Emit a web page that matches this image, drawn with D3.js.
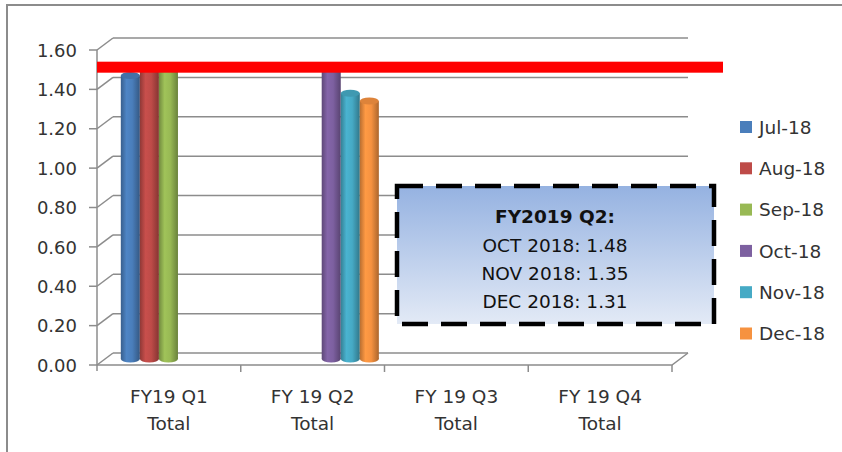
<!DOCTYPE html>
<html>
<head>
<meta charset="utf-8">
<script src="https://cdn.jsdelivr.net/npm/d3@7"></script>
<style>
  body { margin: 0; background: #fff; }
  text { font-family: "DejaVu Sans", sans-serif; }
</style>
</head>
<body>
<div id="chart"></div>
<script>
// data
const categories = ["FY19 Q1 Total", "FY 19 Q2 Total", "FY 19 Q3 Total", "FY 19 Q4 Total"];
const months = ["Jul-18", "Aug-18", "Sep-18", "Oct-18", "Nov-18", "Dec-18"];
const jul18 = [1.44, null, null, null];
const aug18 = [1.49, null, null, null];
const sep18 = [1.49, null, null, null];
const oct18 = [null, 1.48, null, null];
const nov18 = [null, 1.35, null, null];
const dec18 = [null, 1.31, null, null];
const yTicks = [0, 0.2, 0.4, 0.6, 0.8, 1.0, 1.2, 1.4, 1.6];
const target = 1.5;
const noteTitle = "FY2019 Q2:";
const noteLines = ["OCT 2018: 1.48", "NOV 2018: 1.35", "DEC 2018: 1.31"];

const seriesValues = [jul18, aug18, sep18, oct18, nov18, dec18];
const colors = ["#4a7ebb", "#be4b48", "#98b954", "#7d60a0", "#46aac5", "#f69240"];

const W = 842, H = 452;
const depth = {dx: 16, dy: -12};   // 3d offset front -> back wall

const svg = d3.select('#chart').append('svg')
  .attr('width', W).attr('height', H);

const defs = svg.append('defs');

const x0 = d3.scaleBand().domain(categories).range([97, 672]);
const x1 = d3.scaleBand().domain(months)
  .range([x0.bandwidth() * 0.11, x0.bandwidth() * 0.905]);
const y = d3.scaleLinear().domain([0, 1.6]).range([365, 50]);

// outer frame (only top and left edges show in the crop)
svg.append('path')
  .attr('d', `M7,${H} V5 H${W}`)
  .attr('fill', 'none').attr('stroke', '#8c8c8c').attr('stroke-width', 2);

// walls / gridlines
const grid = svg.append('g').attr('stroke', '#8c8c8c').attr('stroke-width', 1.5).attr('fill', 'none');
grid.selectAll('line.back')
  .data(yTicks).enter().append('line')
  .attr('x1', 97 + depth.dx).attr('x2', 672 + depth.dx)
  .attr('y1', d => y(d) + depth.dy).attr('y2', d => y(d) + depth.dy);
grid.selectAll('line.side')
  .data(yTicks).enter().append('line')
  .attr('x1', 97).attr('x2', 97 + depth.dx)
  .attr('y1', d => y(d)).attr('y2', d => y(d) + depth.dy);
grid.selectAll('line.tick')
  .data(yTicks).enter().append('line')
  .attr('x1', 89).attr('x2', 97)
  .attr('y1', d => y(d)).attr('y2', d => y(d));
// front axis + floor
grid.append('line').attr('x1', 97).attr('x2', 97).attr('y1', y(0) + 6).attr('y2', y(1.6));
grid.append('path')
  .attr('d', `M97,${y(0)} H672 l${depth.dx},${depth.dy}`);
grid.selectAll('line.ctick')
  .data(categories.slice(1).concat(['end'])).enter().append('line')
  .attr('x1', d => d === 'end' ? 672 : x0(d))
  .attr('x2', d => d === 'end' ? 672 : x0(d))
  .attr('y1', y(0)).attr('y2', y(0) + 7);

// y labels
svg.append('g').selectAll('text')
  .data(yTicks).enter().append('text')
  .attr('x', 77).attr('y', d => y(d)).attr('dy', '0.37em')
  .attr('text-anchor', 'end').attr('font-size', 18).attr('fill', '#333')
  .text(d => d3.format('.2f')(d));

// category labels, two lines
const cl = svg.append('g').selectAll('text')
  .data(categories).enter().append('text')
  .attr('text-anchor', 'middle').attr('font-size', 18.5).attr('fill', '#333')
  .attr('x', d => x0(d) + x0.bandwidth() / 2);
cl.append('tspan').attr('x', d => x0(d) + x0.bandwidth() / 2).attr('y', 403)
  .text(d => d.replace(/ Total$/, ''));
cl.append('tspan').attr('x', d => x0(d) + x0.bandwidth() / 2).attr('y', 430)
  .text('Total');

// cylinder gradients
colors.forEach((c, i) => {
  const g = defs.append('linearGradient').attr('id', 'cyl' + i)
    .attr('x1', 0).attr('x2', 1).attr('y1', 0).attr('y2', 0);
  const base = d3.color(c);
  g.append('stop').attr('offset', '0%').attr('stop-color', base.darker(0.8));
  g.append('stop').attr('offset', '30%').attr('stop-color', base.brighter(0.15));
  g.append('stop').attr('offset', '60%').attr('stop-color', base);
  g.append('stop').attr('offset', '100%').attr('stop-color', base.darker(1));
});

// bars (drawn at mid depth)
const bars = [];
seriesValues.forEach((vals, si) => {
  vals.forEach((v, ci) => {
    if (v != null) bars.push({s: si, cat: categories[ci], v: v});
  });
});
const midX = depth.dx / 2, midY = depth.dy / 2;
const ry = 3.5;
const barG = svg.append('g').selectAll('g').data(bars).enter().append('g');
barG.append('ellipse')
  .attr('cx', d => x0(d.cat) + x1(months[d.s]) + midX + x1.bandwidth() / 2)
  .attr('cy', y(0) + midY)
  .attr('rx', x1.bandwidth() / 2).attr('ry', ry)
  .attr('fill', d => `url(#cyl${d.s})`);
barG.append('rect')
  .attr('x', d => x0(d.cat) + x1(months[d.s]) + midX)
  .attr('y', d => y(d.v) + midY)
  .attr('width', x1.bandwidth())
  .attr('height', d => y(0) - y(d.v))
  .attr('fill', d => `url(#cyl${d.s})`);
barG.append('ellipse')
  .attr('cx', d => x0(d.cat) + x1(months[d.s]) + midX + x1.bandwidth() / 2)
  .attr('cy', d => y(d.v) + midY)
  .attr('rx', x1.bandwidth() / 2).attr('ry', ry)
  .attr('fill', d => d3.color(colors[d.s]).darker(0.3));

// red target line
svg.append('rect')
  .attr('x', 97).attr('width', 723 - 97)
  .attr('y', y(target) - 8).attr('height', 11)
  .attr('fill', '#ff0000');

// note box
const note = defs.append('linearGradient').attr('id', 'noteFill')
  .attr('x1', 0).attr('x2', 0).attr('y1', 0).attr('y2', 1);
note.append('stop').attr('offset', '0%').attr('stop-color', '#95b2e1');
note.append('stop').attr('offset', '100%').attr('stop-color', '#e3eaf6');
svg.append('rect')
  .attr('x', 397).attr('y', 186).attr('width', 317).attr('height', 138)
  .attr('fill', 'url(#noteFill)')
  .attr('stroke', '#000').attr('stroke-width', 4.5)
  .attr('stroke-dasharray', '26,13');
svg.append('text')
  .attr('x', 555).attr('y', 223).attr('text-anchor', 'middle')
  .attr('font-size', 18.5).attr('font-weight', 'bold').attr('fill', '#111')
  .text(noteTitle);
svg.append('g').selectAll('text')
  .data(noteLines).enter().append('text')
  .attr('x', 555).attr('y', (d, i) => 252 + i * 28)
  .attr('text-anchor', 'middle').attr('font-size', 18.5).attr('fill', '#111')
  .text(d => d);

// legend
const leg = svg.append('g').selectAll('g')
  .data(months).enter().append('g')
  .attr('transform', (d, i) => `translate(740,${127 + i * 41.3})`);
leg.append('rect').attr('x', 0).attr('y', -6).attr('width', 12).attr('height', 12)
  .attr('fill', (d, i) => colors[i]);
leg.append('text').attr('x', 19).attr('dy', '0.37em')
  .attr('font-size', 18.5).attr('fill', '#333')
  .text(d => d);
</script>
</body>
</html>
